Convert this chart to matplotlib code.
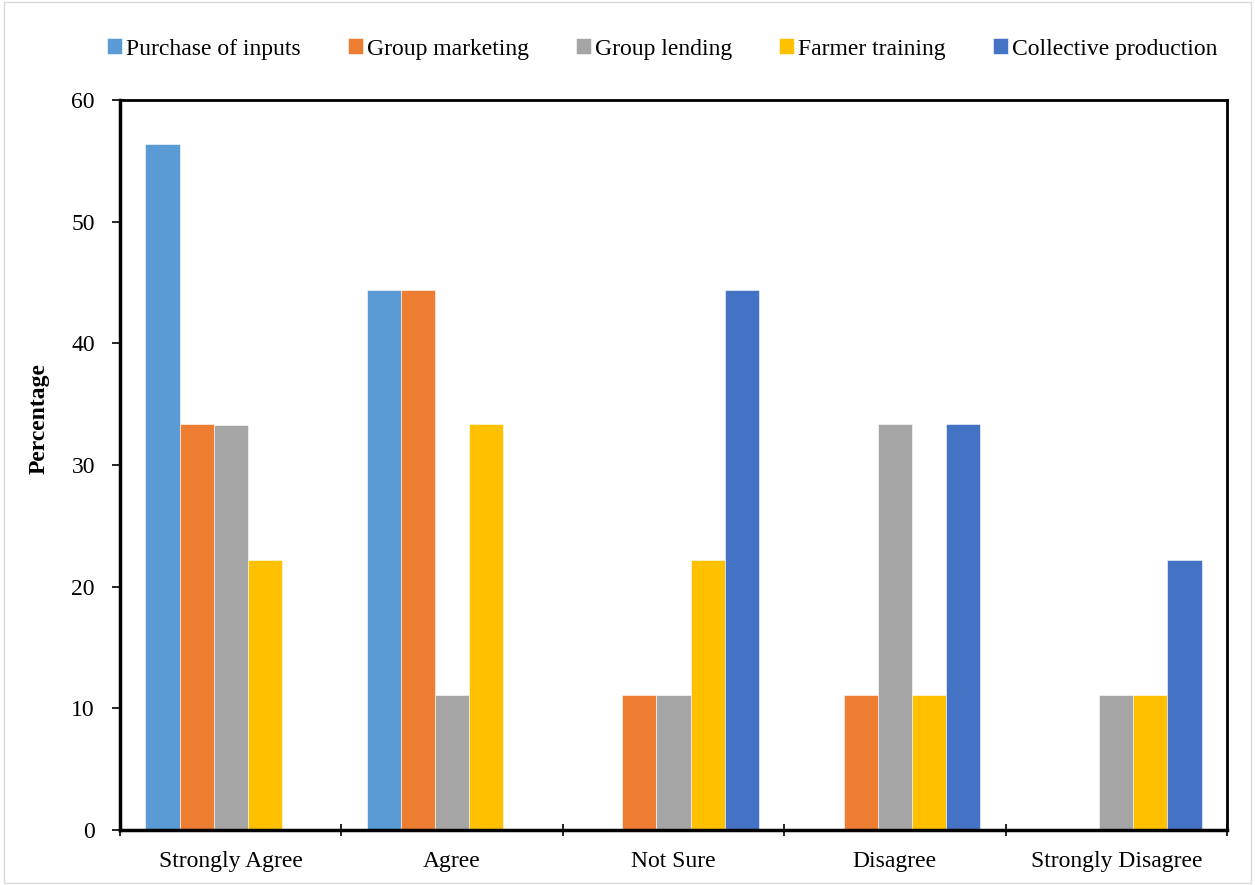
import matplotlib
matplotlib.use("Agg")
import matplotlib.pyplot as plt
import numpy as np
from matplotlib.patches import Rectangle

categories = ["Strongly Agree", "Agree", "Not Sure", "Disagree", "Strongly Disagree"]
series_names = ["Purchase of inputs", "Group marketing", "Group lending", "Farmer training", "Collective production"]
purchase = [56.4, 44.4, 0, 0, 0]
marketing = [33.4, 44.4, 11.1, 11.1, 0]
lending = [33.3, 11.1, 11.1, 33.4, 11.1]
training = [22.2, 33.4, 22.2, 11.1, 11.1]
collective = [0, 0, 44.4, 33.4, 22.2]
colors = ["#5B9BD5", "#ED7D31", "#A5A5A5", "#FFC000", "#4472C4"]
yticks = [0, 10, 20, 30, 40, 50, 60]

plt.rcParams['font.family'] = ['Liberation Serif', 'DejaVu Serif']

fig = plt.figure(figsize=(12.55, 8.85), dpi=100)
ax = fig.add_axes([120/1255, 1-830/885, 1107/1255, 730/885])

data = [purchase, marketing, lending, training, collective]
x = np.arange(len(categories))
w = 0.154
for i, (vals, name, c) in enumerate(zip(data, series_names, colors)):
    ax.bar(x + (i - 2) * w, vals, width=w, color=c, label=name,
           edgecolor='white', linewidth=0.4)

ax.set_xlim(-0.5, len(categories) - 0.5)
ax.set_ylim(0, 60)
ax.set_yticks(yticks)
ax.set_yticklabels([str(t) for t in yticks], fontsize=17)
ax.set_xticks(x)
ax.set_xticklabels(categories, fontsize=17)
ax.tick_params(axis='x', which='major', length=0, pad=15)
ax.set_xticks(np.arange(-0.5, len(categories)), minor=True)
ax.tick_params(axis='x', which='minor', length=8, width=1.2, direction='inout')
ax.tick_params(axis='y', length=6, width=1.2, pad=12)

for side, lw in [('left', 2.5), ('bottom', 2.5), ('top', 2.0), ('right', 2.0)]:
    ax.spines[side].set_linewidth(lw)
    ax.spines[side].set_color('black')

ax.set_ylabel("Percentage", fontsize=17, fontweight='bold')
ax.yaxis.set_label_coords(-0.064, 0.564)

leg = fig.legend(loc='center', bbox_to_anchor=(662/1255, 1-49/885), ncol=5,
                 frameon=False, fontsize=17, handlelength=0.65, handleheight=0.65,
                 handletextpad=0.15, columnspacing=2.0)

fig.patches.append(Rectangle((4/1255, 0.002), 1-8/1255, 0.996, transform=fig.transFigure,
                             fill=False, edgecolor='#D9D9D9', linewidth=1))

fig.savefig("out.png", dpi=100)
